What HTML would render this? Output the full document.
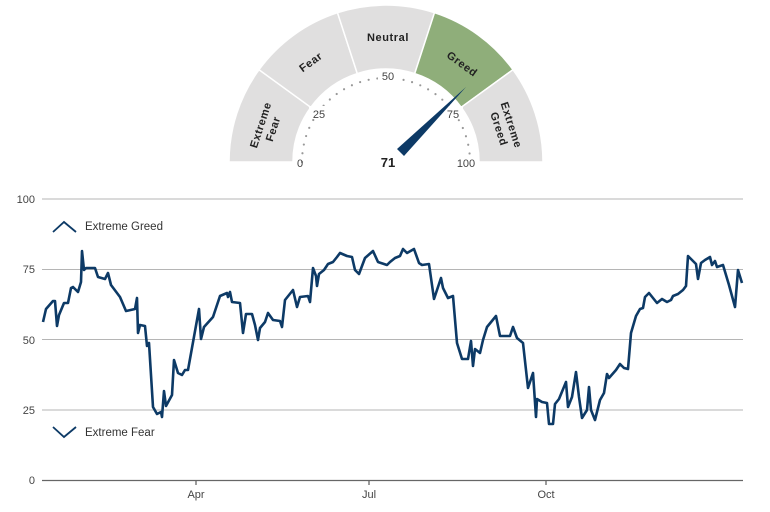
<!DOCTYPE html>
<html><head><meta charset="utf-8"><style>
html,body{margin:0;padding:0;background:#fff;}
svg{display:block;font-family:"Liberation Sans",Arial,sans-serif;}
</style></head><body>
<svg width="770" height="512" viewBox="0 0 770 512" xmlns="http://www.w3.org/2000/svg">
<!-- gauge -->
<g stroke="#fff" stroke-width="1.5">
<path d="M229,162 A157,157 0 0 1 259,69.7 L310.8,107.3 A93,93 0 0 0 293,162 Z" fill="#e0dfdf"/>
<path d="M259,69.7 A157,157 0 0 1 337.5,12.7 L357.3,73.6 A93,93 0 0 0 310.8,107.3 Z" fill="#e0dfdf"/>
<path d="M337.5,12.7 A157,157 0 0 1 434.5,12.7 L414.7,73.6 A93,93 0 0 0 357.3,73.6 Z" fill="#e0dfdf"/>
<path d="M434.5,12.7 A157,157 0 0 1 513,69.7 L461.2,107.3 A93,93 0 0 0 414.7,73.6 Z" fill="#8fae7a"/>
<path d="M513,69.7 A157,157 0 0 1 543,162 L479,162 A93,93 0 0 0 461.2,107.3 Z" fill="#e0dfdf"/>
</g>
<path d="M302,162 A84,84 0 0 1 470,162" fill="none" stroke="#999" stroke-width="2.2" stroke-linecap="round" stroke-dasharray="0 8.8"/>
<g font-size="11" fill="#444" text-anchor="middle">
<rect x="378" y="69" width="20" height="13" fill="#fff"/><text x="388" y="80">50</text>
<rect x="309" y="106" width="20" height="13" fill="#fff"/><text x="319" y="118">25</text>
<rect x="443" y="106" width="20" height="13" fill="#fff"/><text x="453" y="118">75</text>
<text x="300" y="167">0</text>
<text x="466" y="167">100</text>
</g>
<text x="388" y="167" font-size="13" font-weight="bold" fill="#222" text-anchor="middle">71</text>
<polygon points="466,87 397,149 404,156" fill="#0d3a66"/>
<g font-size="11" font-weight="bold" fill="#222" text-anchor="middle" letter-spacing="0.6">
<text transform="translate(267,127) rotate(-72)"><tspan x="0" y="-3">Extreme</tspan><tspan x="0" y="10">Fear</tspan></text>
<text transform="translate(313,65) rotate(-36)">Fear</text>
<text x="388" y="41">Neutral</text>
<text transform="translate(460,67) rotate(36)">Greed</text>
<text transform="translate(505,127) rotate(72)"><tspan x="0" y="-3">Extreme</tspan><tspan x="0" y="10">Greed</tspan></text>
</g>
<!-- chart -->
<g stroke="#b5b5b5" stroke-width="1">
<line x1="42" y1="199" x2="743" y2="199"/>
<line x1="42" y1="269.5" x2="743" y2="269.5"/>
<line x1="42" y1="339.5" x2="743" y2="339.5"/>
<line x1="42" y1="410" x2="743" y2="410"/>
</g>
<line x1="42" y1="480.5" x2="743" y2="480.5" stroke="#666" stroke-width="1.3"/>
<g stroke="#666" stroke-width="1.3"><line x1="196" y1="480" x2="196" y2="485"/><line x1="369" y1="480" x2="369" y2="485"/><line x1="546" y1="480" x2="546" y2="485"/></g>
<g font-size="11" fill="#444" text-anchor="end">
<text x="35" y="203">100</text><text x="35" y="273">75</text><text x="35" y="344">50</text><text x="35" y="414">25</text><text x="35" y="484">0</text>
</g>
<g font-size="11" fill="#444" text-anchor="middle">
<text x="196" y="498">Apr</text><text x="369" y="498">Jul</text><text x="546" y="498">Oct</text>
</g>
<path d="M53,232 L64,222 L76,232" fill="none" stroke="#0d3a66" stroke-width="1.8"/>
<text x="85" y="230" font-size="11.5" fill="#333">Extreme Greed</text>
<path d="M53,427 L64,437 L76,427" fill="none" stroke="#0d3a66" stroke-width="1.8"/>
<text x="85" y="436" font-size="11.5" fill="#333">Extreme Fear</text>
<polyline fill="none" stroke="#0d3a66" stroke-width="2.6" stroke-linejoin="round" points="43,322 46,309 53,301 55,301 57,326 59,315 64,303 68,303 71,288 73,287 78,292 81,282 82,251 84,270 86,268 95,268 98,277 105,279 108,273 111,285 120,297 126,311 135,309 137,298 138,333 140,325 145,326 147,346 149,343 153,407 157,414 161,412 162,417 164,391 166,406 172,395 174,360 178,373 182,375 185,370 188,370 199,309 201,339 204,327 213,317 220,296 227,293 228,297 230,292 232,302 240,303 243,333 246,314 252,314 255,325 258,340 260,328 265,322 268,313 273,320 280,321 282,327 285,300 293,290 297,307 300,297 308,296 310,302 313,268 316,276 317,286 319,274 324,270 328,264 333,262 337,257 340,253 347,256 352,257 355,270 359,274 365,258 373,251 378,262 387,265 390,262 395,258 400,256 403,249 407,253 414,249 419,263 422,265 429,264 434,299 437,290 441,278 443,288 448,298 453,296 457,343 462,359 468,359 471,341 473,366 475,349 480,353 483,340 487,327 496,316 500,336 510,336 513,327 517,338 523,343 528,388 533,373 536,417 537,399 542,402 547,403 549,424 553,424 555,404 559,399 566,382 568,407 572,397 576,372 579,397 582,418 587,410 589,387 591,410 595,420 600,400 604,393 607,374 609,378 616,370 620,364 624,368 628,369 631,333 636,316 640,309 643,308 645,297 649,293 657,303 662,299 667,302 671,300 673,296 678,294 683,290 686,286 688,256 696,264 698,279 701,263 705,260 710,257 712,265 715,261 717,267 723,265 729,285 735,307 738,270 742,283"/>
</svg>
</body></html>
